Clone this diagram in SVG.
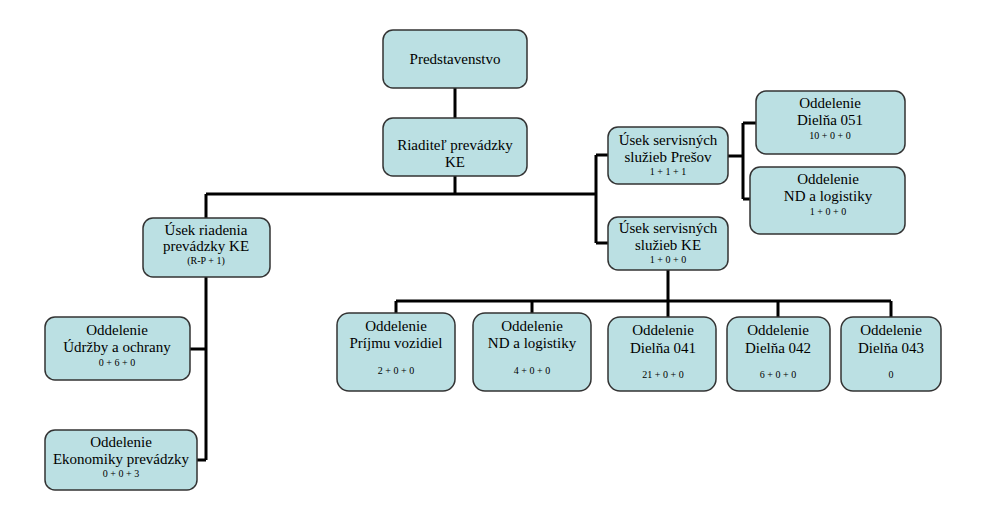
<svg xmlns="http://www.w3.org/2000/svg" width="1000" height="510" viewBox="0 0 1000 510" font-family="Liberation Serif, Times New Roman, serif">
<style>
.box{fill:#bbe0e3;stroke:#333;stroke-width:1.5}
text{font-family:'Liberation Serif','Times New Roman',serif;fill:#000;text-anchor:middle}
.t{font-size:15px}
.s{font-size:10px}
.c{fill:none;stroke:#000;stroke-width:3}
</style>
<rect width="1000" height="510" fill="#fff"/>
<g id="connectors">
<path class="c" d="M455 88V118M455 176V194M206 194H596M206 194V218M596 155V243M596 155H608M596 243H608"/>
<path class="c" d="M728 156H743M743 123V199M743 123H756M743 199H750"/>
<path class="c" d="M206 277V460M190 349H206M197 460H206"/>
<path class="c" d="M668 270V317M396 301H891M396 301V313M532 301V313M778 301V317M891 301V317"/>
</g>
<g id="predstavenstvo"><rect class="box" x="383" y="30" width="144" height="58" rx="10"/><text class="t" x="455" y="64">Predstavenstvo</text></g>
<g id="riaditel"><rect class="box" x="383" y="118" width="144" height="58" rx="10"/><text class="t" x="455" y="150">Riaditeľ prevádzky</text><text class="t" x="455" y="167">KE</text></g>
<g id="usek-riadenia"><rect class="box" x="143" y="218" width="127" height="59" rx="10"/><text class="t" x="206" y="235">Úsek riadenia</text><text class="t" x="206" y="251">prevádzky KE</text><text class="s" x="206" y="264">(R-P + 1)</text></g>
<g id="usek-presov"><rect class="box" x="608" y="127" width="120" height="57" rx="10"/><text class="t" x="668" y="145">Úsek servisných</text><text class="t" x="668" y="162">služieb Prešov</text><text class="s" x="668" y="175">1 + 1 + 1</text></g>
<g id="usek-ke"><rect class="box" x="608" y="217" width="120" height="53" rx="10"/><text class="t" x="668" y="233">Úsek servisných</text><text class="t" x="668" y="250">služieb KE</text><text class="s" x="668" y="263">1 + 0 + 0</text></g>
<g id="dielna-051"><rect class="box" x="756" y="91" width="149" height="63" rx="10"/><text class="t" x="830" y="108">Oddelenie</text><text class="t" x="830" y="125">Dielňa 051</text><text class="s" x="830" y="139">10 + 0 + 0</text></g>
<g id="nd-presov"><rect class="box" x="750" y="167" width="155" height="67" rx="10"/><text class="t" x="828" y="184">Oddelenie</text><text class="t" x="828" y="201">ND a logistiky</text><text class="s" x="828" y="215">1 + 0 + 0</text></g>
<g id="udrzby"><rect class="box" x="45" y="317" width="145" height="63" rx="10"/><text class="t" x="117" y="335">Oddelenie</text><text class="t" x="117" y="352">Údržby a ochrany</text><text class="s" x="117" y="366">0 + 6 + 0</text></g>
<g id="ekonomiky"><rect class="box" x="45" y="430" width="152" height="60" rx="10"/><text class="t" x="121" y="447">Oddelenie</text><text class="t" x="121" y="464">Ekonomiky prevádzky</text><text class="s" x="121" y="477">0 + 0 + 3</text></g>
<g id="prijmu"><rect class="box" x="337" y="313" width="118" height="78" rx="12"/><text class="t" x="396" y="331">Oddelenie</text><text class="t" x="396" y="348">Príjmu vozidiel</text><text class="s" x="396" y="374">2 + 0 + 0</text></g>
<g id="nd-ke"><rect class="box" x="473" y="313" width="118" height="78" rx="12"/><text class="t" x="532" y="331">Oddelenie</text><text class="t" x="532" y="348">ND a logistiky</text><text class="s" x="532" y="374">4 + 0 + 0</text></g>
<g id="dielna-041"><rect class="box" x="608" y="317" width="108" height="74" rx="12"/><text class="t" x="663" y="335">Oddelenie</text><text class="t" x="663" y="353">Dielňa 041</text><text class="s" x="663" y="378">21 + 0 + 0</text></g>
<g id="dielna-042"><rect class="box" x="727" y="317" width="103" height="74" rx="12"/><text class="t" x="778" y="335">Oddelenie</text><text class="t" x="778" y="353">Dielňa 042</text><text class="s" x="778" y="378">6 + 0 + 0</text></g>
<g id="dielna-043"><rect class="box" x="841" y="317" width="100" height="74" rx="12"/><text class="t" x="891" y="335">Oddelenie</text><text class="t" x="891" y="353">Dielňa 043</text><text class="s" x="891" y="378">0</text></g>
</svg>
